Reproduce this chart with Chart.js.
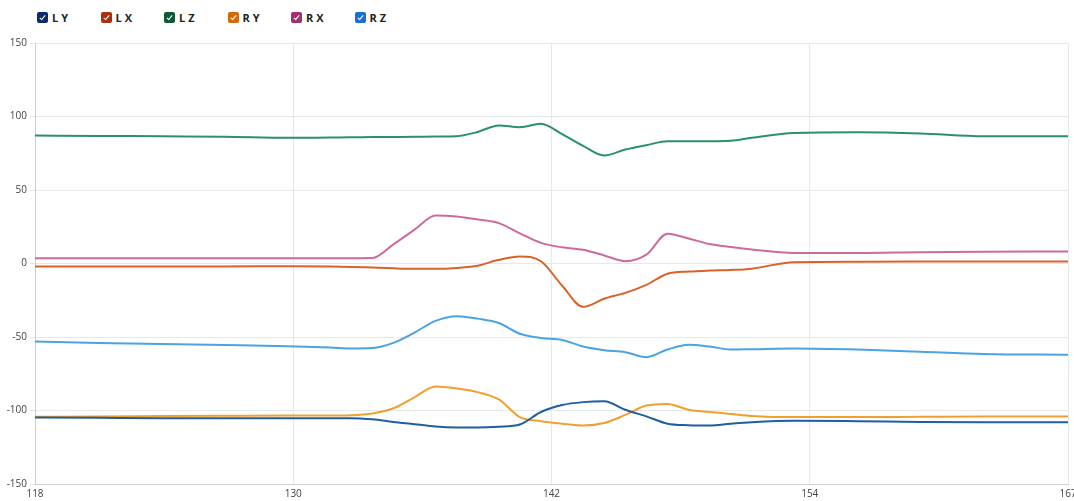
<!DOCTYPE html>
<html lang="en">
<head>
    <meta charset="UTF-8">
    <title>Motion</title>
    <script src="https://cdn.jsdelivr.net/npm/chart.js"></script>
    <style>
        html, body { margin: 0; padding: 0; background: #fff; }
        body { width: 1074px; height: 501px; position: relative; overflow: hidden; font-family: "Open Sans", sans-serif; }
        /* Legend with checkbox style markers */
        #legend { position: absolute; left: 37px; top: 10px; display: flex; }
        .item { display: flex; align-items: center; width: 63.5px; font-size: 11px; font-weight: bold; letter-spacing: 3px; color: #222; }
        .box { width: 11px; height: 11px; border-radius: 2px; margin-right: 4px; position: relative; }
        .box::after { content: ""; position: absolute; left: 4px; top: 2px; width: 2px; height: 5px; border: solid #fff; border-width: 0 1.5px 1.5px 0; transform: rotate(40deg); }
        #wrap { position: absolute; left: 0; top: 0; width: 1074px; height: 501px; }
    </style>
</head>
<body>
    <div id="legend"></div>
    <div id="wrap"><canvas id="chart"></canvas></div>

    <script>
        // Frames (x values) and joint values
        const frames = [118, 121, 124, 127, 130, 132, 133, 134, 135, 136, 137, 138, 139, 140, 141, 142, 143, 144, 145, 146, 147, 148, 149, 150, 151, 152, 154, 157, 160, 163, 167];
        const LY = [-104.8, -105, -105.2, -105.3, -105.3, -105.2, -105.2, -106, -107.8, -109.3, -110.9, -111.5, -111.5, -111, -109.5, -101, -96.3, -94.3, -93.7, -99.5, -104, -109, -110, -110.2, -109, -108, -107, -107.3, -107.8, -108, -108];
        const LX = [-2, -2, -2, -2, -1.8, -2, -2.3, -2.8, -3.3, -3.6, -3.6, -3, -1.5, 2.5, 4.8, 1.5, -15, -29.5, -24, -20, -14.5, -7, -5.5, -4.8, -4.4, -3.5, 0.9, 1.2, 1.3, 1.4, 1.4];
        const LZ = [87, 86.8, 86.5, 86.3, 85.5, 85.7, 85.8, 86, 86.1, 86.2, 86.4, 86.6, 89.5, 93.9, 92.7, 95, 88, 80, 73.5, 77.5, 80.5, 83.2, 83.2, 83.2, 83.5, 85.5, 88.8, 89.3, 88.5, 86.6, 86.5];
        const RY = [-104.3, -104, -103.8, -103.6, -103.4, -103.4, -103.2, -102, -98.5, -91, -83.7, -85, -87.5, -92.5, -104.5, -107.3, -109, -110.2, -108.5, -103, -96.6, -95.5, -99.5, -101, -102.3, -103.7, -104.5, -104.5, -104.3, -104.1, -104.1];
        const RX = [3.6, 3.6, 3.6, 3.6, 3.6, 3.6, 3.6, 3.7, 13, 23, 32.7, 32, 30, 27.5, 20.5, 14, 11, 9.3, 5.5, 1.6, 6, 20.2, 17, 13.2, 11.2, 9.5, 7.2, 7.2, 7.7, 8, 8.2];
        const RZ = [-53, -54, -54.8, -55.5, -56.3, -57.2, -57.8, -57.5, -54, -47, -39, -35.8, -37.5, -40.5, -47.8, -50.7, -52, -56.5, -59, -60.3, -63.7, -58.5, -55.3, -56.5, -58.5, -58.3, -57.8, -58.5, -60, -61.5, -62.1];

        const seriesNames = ['LY', 'LX', 'LZ', 'RY', 'RX', 'RZ'];
        const xTickLabels = ['118', '130', '142', '154', '167'];
        const yTicks = [-150, -100, -50, 0, 50, 100, 150];

        const values = { LY, LX, LZ, RY, RX, RZ };
        const lineColors = { LY: '#1f5f9f', LX: '#d9622b', LZ: '#2a9070', RY: '#f0a030', RX: '#cc6aa0', RZ: '#4ba3e3' };
        const boxColors = { LY: '#0d2a6b', LX: '#a8300f', LZ: '#0c5a35', RY: '#d4690a', RX: '#a0306e', RZ: '#1a6fd6' };

        // HTML legend
        const legend = document.getElementById('legend');
        seriesNames.forEach(name => {
            const item = document.createElement('div');
            item.className = 'item';
            item.innerHTML = '<span class="box" style="background:' + boxColors[name] + '"></span><span>' + name + '</span>';
            legend.appendChild(item);
        });

        const datasets = seriesNames.map(name => ({
            label: name,
            data: frames.map((f, i) => ({ x: f, y: values[name][i] })),
            borderColor: lineColors[name],
            borderWidth: 2,
            pointRadius: 0,
            fill: false,
            cubicInterpolationMode: 'monotone'
        }));

        const xMin = 118, xMax = 167;
        const gridColor = '#e3eae8';

        new Chart(document.getElementById('chart'), {
            type: 'line',
            data: { datasets },
            options: {
                responsive: true,
                maintainAspectRatio: false,
                animation: false,
                layout: { padding: { top: 43, right: 6, left: 0, bottom: 0 } },
                plugins: { legend: { display: false }, tooltip: { enabled: false } },
                scales: {
                    x: {
                        type: 'linear',
                        min: xMin,
                        max: xMax,
                        afterBuildTicks: scale => {
                            scale.ticks = xTickLabels.map((t, i) => ({ value: xMin + i * (xMax - xMin) / (xTickLabels.length - 1) }));
                        },
                        afterFit: scale => { scale.height = 17; scale.paddingLeft = 0; scale.paddingRight = 0; },
                        grid: { color: gridColor, drawTicks: false },
                        border: { color: '#c9d0cf' },
                        ticks: {
                            padding: 4,
                            maxRotation: 0,
                            autoSkip: false,
                            color: '#444',
                            font: { family: 'Open Sans', size: 10 },
                            callback: (v, i) => xTickLabels[i]
                        }
                    },
                    y: {
                        min: -150,
                        max: 150,
                        afterBuildTicks: scale => { scale.ticks = yTicks.map(v => ({ value: v })); },
                        afterFit: scale => { scale.width = 35; scale.paddingTop = 0; scale.paddingBottom = 0; },
                        grid: { color: gridColor, tickLength: 5 },
                        border: { color: '#c9d0cf' },
                        ticks: {
                            padding: 3,
                            color: '#444',
                            font: { family: 'Open Sans', size: 10 }
                        }
                    }
                }
            }
        });
    </script>
</body>
</html>
